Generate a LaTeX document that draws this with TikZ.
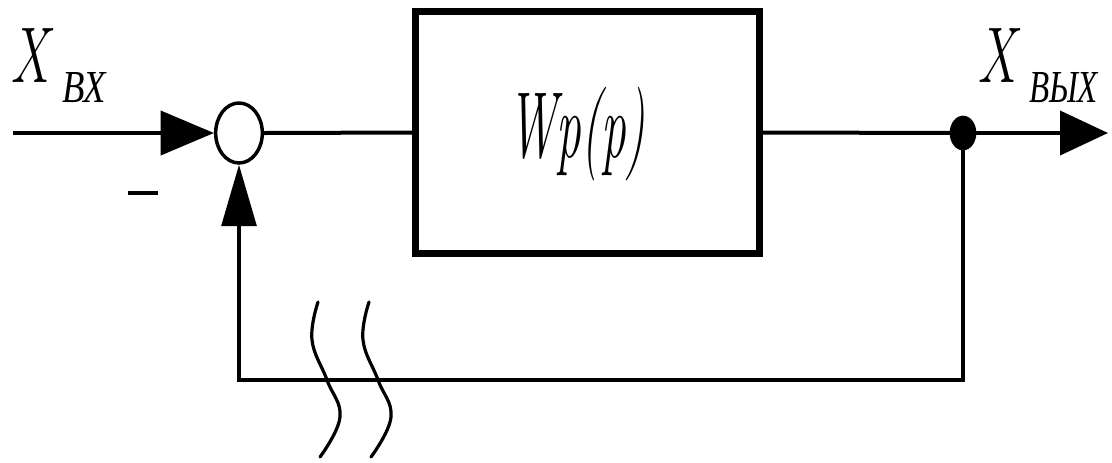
\documentclass[tikz,border=0pt]{standalone}
\usepackage{fontspec}
\newfontfamily\cyrfont{Liberation Serif}
\usetikzlibrary{arrows.meta,shapes.geometric}

\tikzset{
  wire/.style={line width=3pt},
  sumnode/.style={ellipse,draw,line width=2.6pt,fill=white,inner sep=0pt,
                  minimum width=35pt,minimum height=45pt},
  dotnode/.style={ellipse,fill=black,inner sep=0pt,
                  minimum width=20pt,minimum height=26pt},
  blocknode/.style={rectangle,draw,line width=5pt,inner sep=0pt,
                    minimum width=258pt,minimum height=181.5pt},
  lbl/.style={inner sep=0pt,outer sep=0pt,font=\itshape},
  sublbl/.style={inner sep=0pt,outer sep=0pt,font=\cyrfont\itshape},
  inhead/.style={-{Triangle[length=40pt,width=33pt]}},
  outhead/.style={-{Triangle[length=36pt,width=33pt]}},
  fbhead/.style={-{Triangle[length=46pt,width=26pt]}},
  wave/.style={line width=2.4pt,line cap=round},
}

\begin{document}
\begin{tikzpicture}[x=0.75pt,y=-0.75pt]
  \useasboundingbox (0,0) rectangle (1112,462);

  % blocks
  \node[sumnode] (sum) at (239,133) {};
  \node[blocknode] (plant) at (587.5,132.5) {};
  \node[lbl,anchor=base] (tf) at (577,157)
    {\fontsize{37}{37}\selectfont\scalebox{1}[1.9]{Wp(p)}};
  \node[dotnode] (branch) at (963,133) {};

  % free ends of the signal lines
  \coordinate (in)  at (13,133);
  \coordinate (out) at (1108,133);
  \coordinate (fbR) at (963,380);
  \coordinate (fbL) at (239,380);

  % signal lines
  \draw[wire,inhead] (in) -- (sum.west);
  \draw[wire] (sum.east) -- (plant.west);
  \draw[wire] (plant.east) -- (branch.center);
  \draw[wire,outhead] (branch.center) -- (out);
  \draw[wire,fbhead,line join=miter] (branch.center) -- (fbR) -- (fbL) -- (sum.south);

  % sign at the summing point
  \coordinate (mA) at (128,193);
  \coordinate (mB) at (158,193);
  \draw[line width=3pt] (mA) -- (mB);

  % break marks on the feedback path
  \draw[wave] plot[smooth,tension=0.7] coordinates
    {(318,302) (312,340) (327,380) (340,417) (320,457)};
  \draw[wave] plot[smooth,tension=0.7] coordinates
    {(369,302) (363,340) (378,380) (391,417) (371,457)};

  % signal names
  \node[lbl,anchor=base west] (xin) at (10,82)
    {\fontsize{40}{40}\selectfont\scalebox{1}[1.48]{X}};
  \node[sublbl,anchor=base west] (xinsub) at (62,102)
    {\fontsize{27.5}{27.5}\selectfont\scalebox{1}[1.25]{ВХ}};
  \node[lbl,anchor=base west] (xout) at (977,82)
    {\fontsize{40}{40}\selectfont\scalebox{1}[1.48]{X}};
  \node[sublbl,anchor=base west] (xoutsub) at (1029,102)
    {\fontsize{27.5}{27.5}\selectfont\scalebox{0.9}[1.25]{ВЫХ}};
\end{tikzpicture}
\end{document}
